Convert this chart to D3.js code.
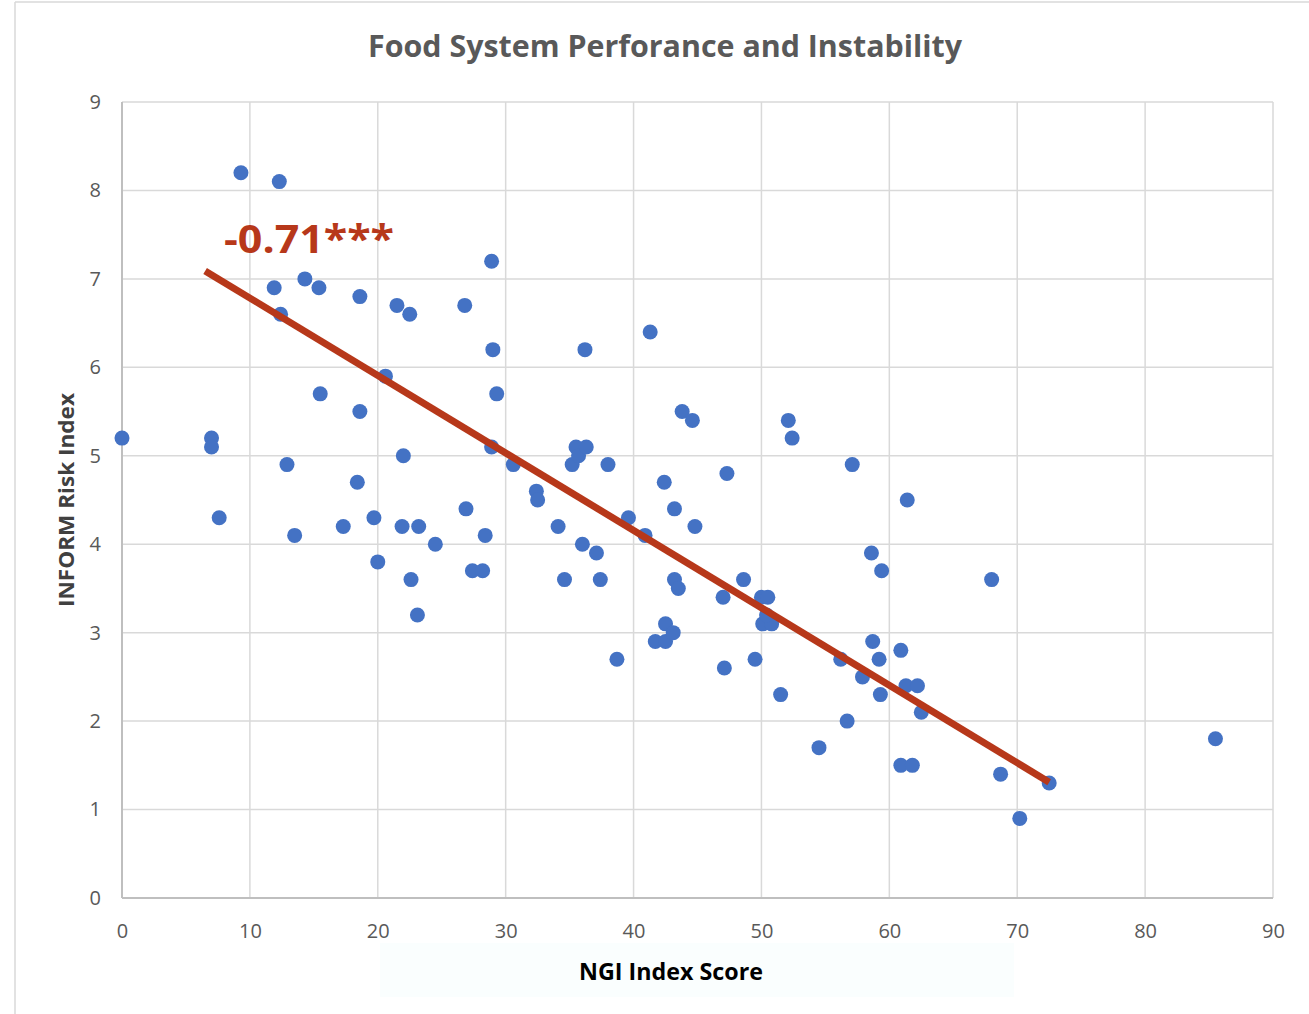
<!DOCTYPE html>
<html>
<head>
<meta charset="utf-8">
<script src="https://cdn.jsdelivr.net/npm/d3@7"></script>
<style>
  body { margin: 0; background: #fff; }
  svg { display: block; font-family: 'Open Sans', 'Noto Sans', sans-serif; }
</style>
</head>
<body>
<svg id="chart"></svg>
<script>
// NGI index score (x) and INFORM risk index (y), one entry per country
const ngiScore = [
  0, 7.0, 7.0, 7.6, 9.3, 12.3, 11.9, 12.4, 12.9, 13.5,
  14.3, 15.4, 15.5, 17.3, 18.6, 18.6, 18.4, 19.7, 20.0, 20.6,
  21.5, 22.5, 22.0, 21.9, 22.6, 23.2, 23.1, 24.5, 26.8, 26.9,
  27.4, 28.2, 28.4, 28.9, 29.0, 29.3, 28.9, 30.6, 32.4, 32.5,
  34.1, 34.6, 35.2, 35.5, 35.7, 36.3, 36.2, 36.0, 37.1, 37.4,
  38.0, 38.7, 39.6, 40.9, 41.3, 41.7, 42.5, 42.5, 42.4, 43.1,
  43.2, 43.2, 43.5, 43.8, 44.6, 44.8, 47.0, 47.1, 47.3, 48.6,
  49.5, 50.0, 50.5, 50.1, 50.8, 50.4, 51.5, 52.1, 52.4, 54.5,
  56.2, 56.7, 57.1, 57.9, 58.7, 58.6, 59.2, 59.3, 59.4, 60.9,
  60.9, 61.3, 61.4, 61.8, 62.2, 62.5, 68.0, 68.7, 70.2, 72.5,
  85.5
];
const informRisk = [
  5.2, 5.2, 5.1, 4.3, 8.2, 8.1, 6.9, 6.6, 4.9, 4.1,
  7.0, 6.9, 5.7, 4.2, 6.8, 5.5, 4.7, 4.3, 3.8, 5.9,
  6.7, 6.6, 5.0, 4.2, 3.6, 4.2, 3.2, 4.0, 6.7, 4.4,
  3.7, 3.7, 4.1, 7.2, 6.2, 5.7, 5.1, 4.9, 4.6, 4.5,
  4.2, 3.6, 4.9, 5.1, 5.0, 5.1, 6.2, 4.0, 3.9, 3.6,
  4.9, 2.7, 4.3, 4.1, 6.4, 2.9, 2.9, 3.1, 4.7, 3.0,
  4.4, 3.6, 3.5, 5.5, 5.4, 4.2, 3.4, 2.6, 4.8, 3.6,
  2.7, 3.4, 3.4, 3.1, 3.1, 3.2, 2.3, 5.4, 5.2, 1.7,
  2.7, 2.0, 4.9, 2.5, 2.9, 3.9, 2.7, 2.3, 3.7, 2.8,
  1.5, 2.4, 4.5, 1.5, 2.4, 2.1, 3.6, 1.4, 0.9, 1.3,
  1.8
];
// fitted trend line end points
const trendX = [6.5, 72.5];
const trendY = [7.09, 1.31];
const corrLabel = '-0.71***';

const xTicks = [0, 10, 20, 30, 40, 50, 60, 70, 80, 90];
const yTicks = [0, 1, 2, 3, 4, 5, 6, 7, 8, 9];

const width = 1309;
const height = 1014;
const margin = { top: 102, right: 36, bottom: 116, left: 122 };

const svg = d3.select('#chart')
  .attr('width', width)
  .attr('height', height);

// chart frame, only the top and left edges show in the picture
svg.append('line')
  .attr('x1', 15).attr('x2', width).attr('y1', 2).attr('y2', 2)
  .attr('stroke', '#d9d9d9').attr('stroke-width', 1.5);
svg.append('line')
  .attr('x1', 15).attr('x2', 15).attr('y1', 2).attr('y2', height)
  .attr('stroke', '#d9d9d9').attr('stroke-width', 1.5);

const x = d3.scaleLinear()
  .domain([0, 90])
  .range([margin.left, width - margin.right]);

const y = d3.scaleLinear()
  .domain([0, 9])
  .range([height - margin.bottom, margin.top]);

// grid
const grid = svg.append('g').attr('class', 'grid');
grid.selectAll('line.gx')
  .data(xTicks)
  .enter()
  .append('line')
  .attr('class', 'gx')
  .attr('x1', d => x(d)).attr('x2', d => x(d))
  .attr('y1', y(9)).attr('y2', y(0))
  .attr('stroke', '#d9d9d9')
  .attr('stroke-width', 1.5);
grid.selectAll('line.gy')
  .data(yTicks)
  .enter()
  .append('line')
  .attr('class', 'gy')
  .attr('x1', x(0)).attr('x2', x(90))
  .attr('y1', d => y(d)).attr('y2', d => y(d))
  .attr('stroke', '#d9d9d9')
  .attr('stroke-width', 1.5);

// axis lines
svg.append('line')
  .attr('x1', x(0)).attr('x2', x(0))
  .attr('y1', y(9)).attr('y2', y(0))
  .attr('stroke', '#bfbfbf').attr('stroke-width', 2);
svg.append('line')
  .attr('x1', x(0)).attr('x2', x(90))
  .attr('y1', y(0)).attr('y2', y(0))
  .attr('stroke', '#bfbfbf').attr('stroke-width', 2);

// tick labels through d3 axes
const xAxis = d3.axisBottom(x).tickValues(xTicks).tickSize(0).tickPadding(26);
const yAxis = d3.axisLeft(y).tickValues(yTicks).tickSize(0).tickPadding(21);

svg.append('g')
  .attr('transform', 'translate(0,' + y(0) + ')')
  .call(xAxis)
  .call(g => g.select('.domain').remove())
  .selectAll('text')
  .attr('font-size', 20)
  .attr('font-family', "'Open Sans', sans-serif")
  .attr('fill', '#595959');

svg.append('g')
  .attr('transform', 'translate(' + x(0) + ',0)')
  .call(yAxis)
  .call(g => g.select('.domain').remove())
  .selectAll('text')
  .attr('font-size', 20)
  .attr('font-family', "'Open Sans', sans-serif")
  .attr('fill', '#595959');

// points
svg.append('g')
  .selectAll('circle')
  .data(ngiScore.map((d, i) => ({ x: d, y: informRisk[i] })))
  .enter()
  .append('circle')
  .attr('cx', d => x(d.x))
  .attr('cy', d => y(d.y))
  .attr('r', 7.5)
  .attr('fill', '#4472c4');

// trend line
const line = d3.line()
  .x(d => x(d[0]))
  .y(d => y(d[1]));
svg.append('path')
  .datum(trendX.map((d, i) => [d, trendY[i]]))
  .attr('d', line)
  .attr('fill', 'none')
  .attr('stroke', '#b7381a')
  .attr('stroke-width', 7);

svg.append('text')
  .attr('x', 224)
  .attr('y', 253)
  .attr('font-size', 40)
  .attr('font-weight', 'bold')
  .attr('font-family', "'Open Sans', sans-serif")
  .attr('fill', '#b7381a')
  .attr('textLength', 170)
  .attr('lengthAdjust', 'spacingAndGlyphs')
  .text(corrLabel);

// title
svg.append('text')
  .attr('x', 665)
  .attr('y', 57)
  .attr('text-anchor', 'middle')
  .attr('font-size', 31)
  .attr('font-weight', 'bold')
  .attr('font-family', "'Open Sans', sans-serif")
  .attr('fill', '#595959')
  .attr('textLength', 594)
  .attr('lengthAdjust', 'spacingAndGlyphs')
  .text('Food System Perforance and Instability');

// x axis title with its faint backdrop
svg.append('rect')
  .attr('x', 380).attr('y', 943)
  .attr('width', 634).attr('height', 54)
  .attr('fill', '#fafefe');
svg.append('text')
  .attr('x', 671)
  .attr('y', 980)
  .attr('text-anchor', 'middle')
  .attr('font-size', 23)
  .attr('font-weight', 'bold')
  .attr('font-family', "'Open Sans', sans-serif")
  .attr('fill', '#000')
  .attr('textLength', 184)
  .attr('lengthAdjust', 'spacingAndGlyphs')
  .text('NGI Index Score');

// y axis title
svg.append('text')
  .attr('transform', 'translate(74,500) rotate(-90)')
  .attr('text-anchor', 'middle')
  .attr('font-size', 21)
  .attr('font-weight', 'bold')
  .attr('font-family', "'Open Sans', sans-serif")
  .attr('fill', '#404040')
  .attr('textLength', 214)
  .attr('lengthAdjust', 'spacingAndGlyphs')
  .text('INFORM Risk Index');
</script>
</body>
</html>
